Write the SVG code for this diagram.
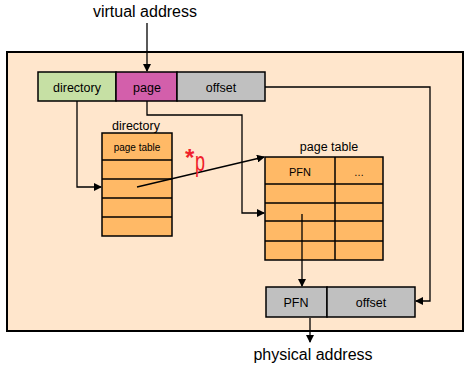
<svg xmlns="http://www.w3.org/2000/svg" width="468" height="366" viewBox="0 0 468 366">
<defs>
<marker id="ah" markerWidth="8" markerHeight="8" refX="7" refY="4" orient="auto" markerUnits="userSpaceOnUse"><path d="M0,0 L8,4 L0,8 z" fill="#000"/></marker>
<style>
text{font-family:"Liberation Sans",Arial,sans-serif;fill:#000}
.c{stroke:#000;stroke-width:1.3;fill:none}
.cell{stroke:#000;stroke-width:1.5}
.or{fill:#ffb966}
.lbl{font-size:12.5px;text-anchor:middle}
.red{fill:#f0202a}
</style>
</defs>
<rect width="468" height="366" fill="#fff"/>
<rect id="frame" x="7" y="52" width="456" height="279" fill="#ffe6cc" stroke="#000" stroke-width="2"/>
<text x="145" y="17" font-size="16" text-anchor="middle">virtual address</text>
<g id="vaddr">
<rect x="38" y="72" width="78" height="29" fill="#c6e0a4" class="cell"/>
<rect x="116" y="72" width="61" height="29" fill="#d35fab" class="cell"/>
<rect x="177" y="72" width="88" height="29" fill="#c0c0c0" class="cell"/>
<text x="77" y="92" class="lbl">directory</text>
<text x="147" y="92" class="lbl">page</text>
<text x="221" y="92" class="lbl">offset</text>
</g>
<g id="directory">
<text x="136" y="130" font-size="12.5" text-anchor="middle">directory</text>
<rect x="102" y="133" width="70" height="103" class="or cell"/>
<line x1="102" y1="160" x2="172" y2="160" class="cell"/>
<line x1="102" y1="179" x2="172" y2="179" class="cell"/>
<line x1="102" y1="198" x2="172" y2="198" class="cell"/>
<line x1="102" y1="217" x2="172" y2="217" class="cell"/>
<text x="137" y="151" font-size="10" text-anchor="middle">page table</text>
</g>
<g id="pagetable">
<text x="329" y="151" font-size="12.5" text-anchor="middle">page table</text>
<rect x="265" y="157" width="118" height="103" class="or cell"/>
<line x1="335" y1="157" x2="335" y2="260" class="cell"/>
<line x1="265" y1="184" x2="383" y2="184" class="cell"/>
<line x1="265" y1="203" x2="383" y2="203" class="cell"/>
<line x1="265" y1="221" x2="383" y2="221" class="cell"/>
<line x1="265" y1="241" x2="383" y2="241" class="cell"/>
<text x="300" y="176" font-size="11" text-anchor="middle">PFN</text>
<text x="359" y="176" font-size="10" text-anchor="middle">…</text>
</g>
<g id="paddr">
<rect x="266" y="287" width="61" height="30" fill="#c0c0c0" class="cell"/>
<rect x="327" y="287" width="88" height="30" fill="#c0c0c0" class="cell"/>
<text x="296" y="307" class="lbl">PFN</text>
<text x="371" y="307" class="lbl">offset</text>
</g>
<text x="313" y="360" font-size="16" text-anchor="middle">physical address</text>
<g id="connectors">
<path d="M147,23 V71" class="c" marker-end="url(#ah)"/>
<path d="M77,101 V187 H101" class="c" marker-end="url(#ah)"/>
<path d="M147,101 V115 H242 V213 H264" class="c" marker-end="url(#ah)"/>
<path d="M137,187 L264,157" class="c" marker-end="url(#ah)"/>
<path d="M265,87 H430 V301 H416" class="c" marker-end="url(#ah)"/>
<path d="M302,214 V286" class="c" marker-end="url(#ah)"/>
<path d="M310,318 V342" class="c" marker-end="url(#ah)"/>
</g>
<g id="label-p">
<text x="185" y="166" font-size="24" font-weight="bold" class="red">*</text>
<text transform="translate(195,171) scale(1,1.5)" font-size="18" class="red">p</text>
</g>
</svg>
